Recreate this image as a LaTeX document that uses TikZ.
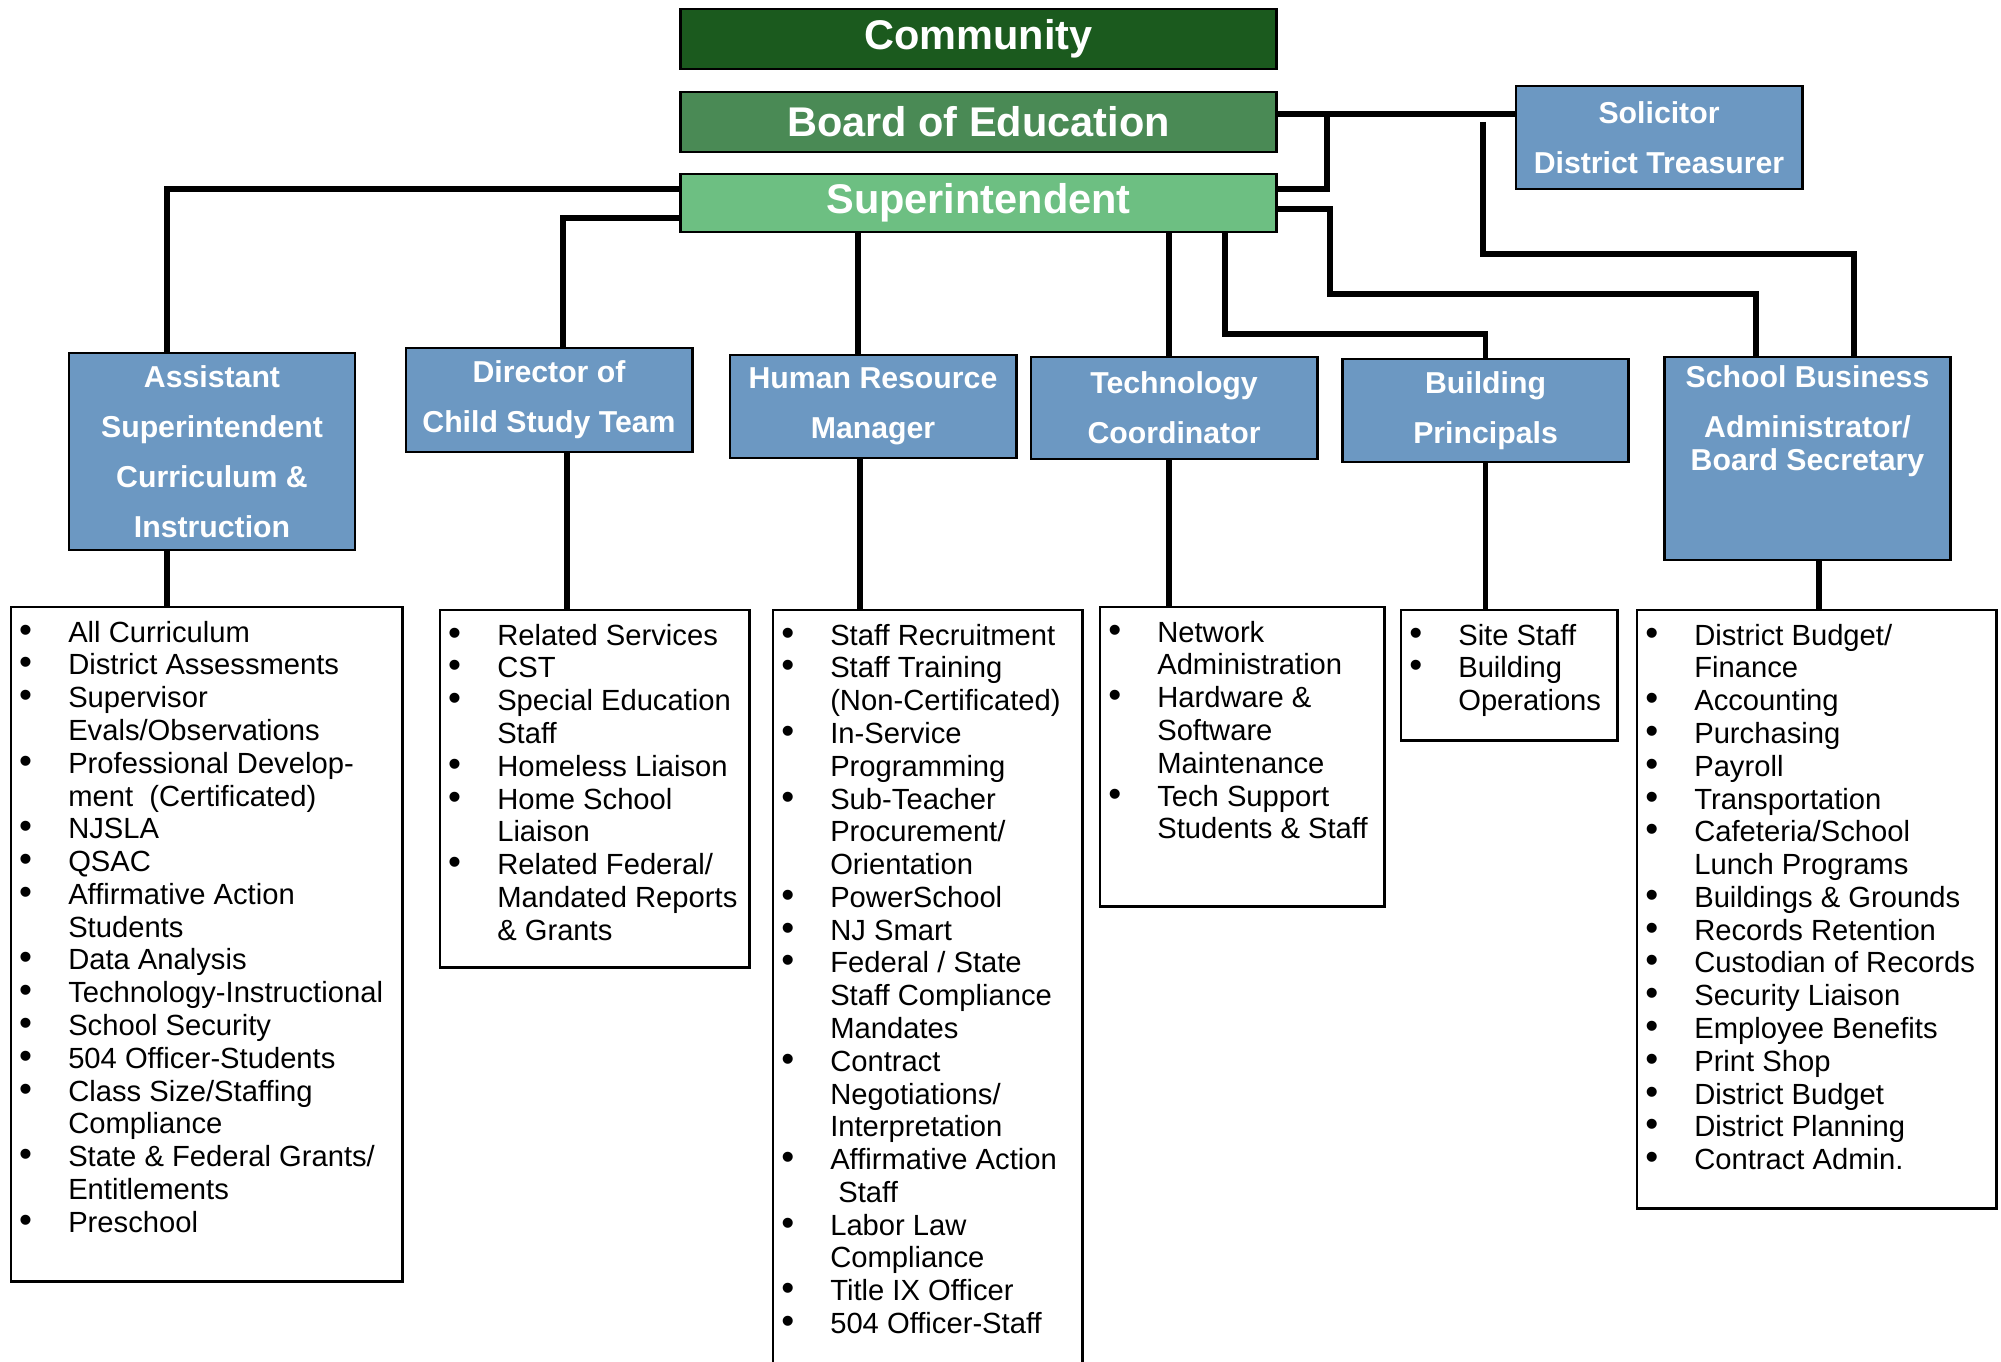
\documentclass[tikz,border=0pt]{standalone}
\usepackage{fontspec}
\setmainfont{Liberation Sans}
\usepackage{array}
\usepackage{tikz}

\definecolor{commgreen}{HTML}{1B5A1E}
\definecolor{boegreen}{HTML}{4A8A55}
\definecolor{suptgreen}{HTML}{6DBF82}
\definecolor{offblue}{HTML}{6C98C2}

\newcommand{\topfont}{\fontsize{11.8}{14}\selectfont\bfseries}
\newcommand{\headfont}{\fontsize{8.6}{14.2}\selectfont\bfseries}
\newcommand{\dutyfont}{\fontsize{8.3}{9.32}\selectfont}
\newcommand{\bul}{{\fontsize{10.5}{9.32}\selectfont\textbullet}}
\newcommand{\dutylist}[3]{\parbox[t][#2][t]{#1}{\dutyfont\begin{tabular}[t]{@{}p{0.49cm}@{}l@{}}#3\end{tabular}}}

\tikzset{
  topbox/.style={draw=black, line width=0.8pt, minimum width=5.95cm, minimum height=0.6cm, inner sep=0pt, text=white, font=\topfont},
  offbox/.style={draw=black, line width=0.8pt, fill=offblue, minimum width=2.86cm, inner sep=0pt, text=white, font=\headfont, align=center},
  listbox/.style={draw=black, line width=0.7pt, anchor=north west, inner xsep=0.08cm, inner ysep=0.12cm},
  link/.style={line width=1.5pt}
}

\begin{document}
\begin{tikzpicture}[x=0.01cm, y=-0.01cm]
\useasboundingbox (0,0) rectangle (2001,1361);

% top of the chart
\node[topbox, fill=commgreen] (comm) at (978.5,39) {Community};
\node[topbox, fill=boegreen] (boe) at (978.5,122) {Board of Education};
\node[topbox, fill=suptgreen, minimum height=0.58cm] (supt) at (978.5,203) {Superintendent};
\node[offbox, minimum height=1.03cm] (sol) at (1659,137.5) {Solicitor\\District Treasurer};

% offices
\node[offbox, minimum height=1.97cm] (asst) at (212,451.5) {Assistant\\Superintendent\\Curriculum \&\\Instruction};
\node[offbox, minimum height=1.04cm] (dir) at (549,400) {Director of\\Child Study Team};
\node[offbox, minimum height=1.03cm] (hr) at (873,406.5) {Human Resource\\Manager};
\node[offbox, minimum height=1.02cm] (tech) at (1174,408) {Technology\\Coordinator};
\node[offbox, minimum height=1.03cm] (bp) at (1485.5,410.5) {Building\\Principals};
\node[offbox, minimum height=2.03cm] (sba) at (1807.5,458.5) {\parbox[c][1.85cm][t]{2.8cm}{\centering School Business\\Administrator/\\[-4.8pt]Board Secretary}};

% duties
\node[listbox] (cur) at (10,606) {\dutylist{3.75cm}{6.50cm}{
\bul & All Curriculum\\
\bul & District Assessments\\
\bul & Supervisor\\
 & Evals/Observations\\
\bul & Professional Develop-\\
 & ment\ \ (Certificated)\\
\bul & NJSLA\\
\bul & QSAC\\
\bul & Affirmative Action\\
 & Students\\
\bul & Data Analysis\\
\bul & Technology-Instructional\\
\bul & School Security\\
\bul & 504 Officer-Students\\
\bul & Class Size/Staffing\\
 & Compliance\\
\bul & State \& Federal Grants/\\
 & Entitlements\\
\bul & Preschool}};

\node[listbox] (cstl) at (439,609) {\dutylist{2.93cm}{3.33cm}{
\bul & Related Services\\
\bul & CST\\
\bul & Special Education\\
 & Staff\\
\bul & Homeless Liaison\\
\bul & Home School\\
 & Liaison\\
\bul & Related Federal/\\
 & Mandated Reports\\
 & \& Grants}};

\node[listbox] (hrl) at (772,609) {\dutylist{2.93cm}{7.47cm}{
\bul & Staff Recruitment\\
\bul & Staff Training\\
 & (Non-Certificated)\\
\bul & In-Service\\
 & Programming\\
\bul & Sub-Teacher\\
 & Procurement/\\
 & Orientation\\
\bul & PowerSchool\\
\bul & NJ Smart\\
\bul & Federal / State\\
 & Staff Compliance\\
 & Mandates\\
\bul & Contract\\
 & Negotiations/\\
 & Interpretation\\
\bul & Affirmative Action\\
 & \ Staff\\
\bul & Labor Law\\
 & Compliance\\
\bul & Title IX Officer\\
\bul & 504 Officer-Staff}};

\node[listbox] (techl) at (1099,606) {\dutylist{2.68cm}{2.75cm}{
\bul & Network\\
 & Administration\\
\bul & Hardware \&\\
 & Software\\
 & Maintenance\\
\bul & Tech Support\\
 & Students \& Staff}};

\node[listbox] (bpl) at (1400,609) {\dutylist{2.00cm}{1.06cm}{
\bul & Site Staff\\
\bul & Building\\
 & Operations}};

\node[listbox] (sbal) at (1636,609) {\dutylist{3.43cm}{5.74cm}{
\bul & District Budget/\\
 & Finance\\
\bul & Accounting\\
\bul & Purchasing\\
\bul & Payroll\\
\bul & Transportation\\
\bul & Cafeteria/School\\
 & Lunch Programs\\
\bul & Buildings \& Grounds\\
\bul & Records Retention\\
\bul & Custodian of Records\\
\bul & Security Liaison\\
\bul & Employee Benefits\\
\bul & Print Shop\\
\bul & District Budget\\
\bul & District Planning\\
\bul & Contract Admin.}};

% board side
\coordinate (bsj) at (1327,114);
\coordinate (trj) at (1483,254);
\coordinate (sbj) at (1330,294);
\coordinate (bpj) at (1225,334);
\draw[link] ([yshift=0.08cm]boe.east) -- ([yshift=0.08cm]boe.east -| sol.west);
\draw[link] ([yshift=0.14cm]supt.east) -| (bsj);
\draw[link] (trj |- boe.east) -- (trj) -| ([xshift=0.465cm]sba.north);
\draw[link] ([yshift=-0.06cm]supt.east) -| (sbj) -| ([xshift=-0.515cm]sba.north);

% superintendent down to the offices
\draw[link] ([yshift=0.14cm]supt.west) -| ([xshift=-0.45cm]asst.north);
\draw[link] ([yshift=-0.15cm]supt.west) -| ([xshift=0.14cm]dir.north);
\draw[link] ([xshift=-0.15cm]hr.north) -- ([xshift=-0.15cm]hr.north |- supt.south);
\draw[link] ([xshift=-0.05cm]tech.north) -- ([xshift=-0.05cm]tech.north |- supt.south);
\draw[link] (bpj |- supt.south) -- (bpj) -| (bp.north);

% offices down to duties
\foreach \a/\b/\s in {asst/cur/-0.45cm, dir/cstl/0.18cm, hr/hrl/-0.13cm, tech/techl/-0.05cm, bp/bpl/0cm, sba/sbal/0.115cm}
  \draw[link] ([xshift=\s]\a.south) -- ([xshift=\s]\a.south |- \b.north);
\end{tikzpicture}
\end{document}
